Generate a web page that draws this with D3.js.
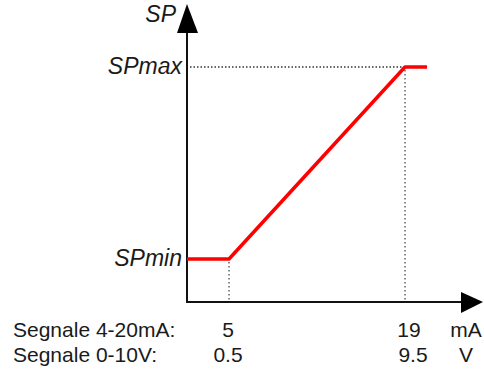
<!DOCTYPE html>
<html>
<head>
<meta charset="utf-8">
<script src="https://cdn.jsdelivr.net/npm/d3@7"></script>
<style>
  body { margin: 0; background: #fff; }
  svg { display: block; }
  text { font-family: "Liberation Sans", Arial, sans-serif; fill: #1a1a1a; }
</style>
</head>
<body>
<svg id="chart"></svg>
<script>
// signal in mA, setpoint as fraction of SPmin..SPmax
var curveMA = [1.66, 5, 19, 20.75];
var curveSP = [0, 0, 1, 1];
var ticksMA = [5, 19];
var ticksV = ['0.5', '9.5'];
var rowLabels = ['Segnale 4-20mA:', 'Segnale 0-10V:'];
var units = ['mA', 'V'];
var spLabels = ['SPmin', 'SPmax'];

var W = 484, H = 374;
var x0 = 187, y0 = 302;

var svg = d3.select('#chart')
    .attr('width', W)
    .attr('height', H);

var x = d3.scaleLinear().domain([5, 19]).range([229, 405]);
var y = d3.scaleLinear().domain([0, 1]).range([259, 67]);

// dotted guides
svg.append('g')
    .attr('class', 'guides')
    .selectAll('line')
    .data(ticksMA)
    .enter()
    .append('line')
    .attr('x1', function(d) { return x(d); })
    .attr('x2', function(d) { return x(d); })
    .attr('y1', function(d, i) { return y(i) + 3; })
    .attr('y2', y0)
    .attr('stroke', '#666')
    .attr('stroke-width', 1.5)
    .attr('stroke-dasharray', '1.5,2.5');

svg.append('line')
    .attr('x1', x0 + 3)
    .attr('x2', x(19))
    .attr('y1', y(1))
    .attr('y2', y(1))
    .attr('stroke', '#333')
    .attr('stroke-width', 1.5)
    .attr('stroke-dasharray', '1.5,2');

// axes
svg.append('path')
    .attr('d', 'M' + x0 + ',28 V' + y0 + ' H' + 465)
    .attr('fill', 'none')
    .attr('stroke', '#111')
    .attr('stroke-width', 2);

svg.append('path')
    .attr('d', 'M' + x0 + ',4 L' + (x0 - 10) + ',33 L' + (x0 + 11) + ',33 Z')
    .attr('fill', '#000');

svg.append('path')
    .attr('d', 'M483,' + y0 + ' L461,' + (y0 - 10) + ' L461,' + (y0 + 11) + ' Z')
    .attr('fill', '#000');

// red curve
var line = d3.line()
    .x(function(d) { return x(d[0]); })
    .y(function(d) { return y(d[1]); });

svg.append('path')
    .datum(d3.zip(curveMA, curveSP))
    .attr('d', line)
    .attr('fill', 'none')
    .attr('stroke', '#ff0000')
    .attr('stroke-width', 3.5)
    .attr('stroke-linejoin', 'round');

// labels
svg.append('text')
    .attr('x', 176)
    .attr('y', 22)
    .attr('text-anchor', 'end')
    .style('font-size', '23px')
    .style('font-style', 'italic')
    .text('SP');

svg.selectAll('.sp')
    .data(spLabels)
    .enter()
    .append('text')
    .attr('class', 'sp')
    .attr('x', 182)
    .attr('y', function(d, i) { return y(i) + 7; })
    .attr('text-anchor', 'end')
    .style('font-size', '23px')
    .style('font-style', 'italic')
    .text(function(d) { return d; });

var rows = [ticksMA.map(String), ticksV];
rows.forEach(function(r, i) {
  var by = 337 + i * 25;
  svg.append('text')
      .attr('x', 13)
      .attr('y', by)
      .style('font-size', '21px')
      .text(rowLabels[i]);
  svg.selectAll('.t' + i)
      .data(r)
      .enter()
      .append('text')
      .attr('class', 't' + i)
      .attr('x', function(d, j) { return x(ticksMA[j]) + (j == 1 ? 4 + i * 4 : -1); })
      .attr('y', by)
      .attr('text-anchor', 'middle')
      .style('font-size', '21px')
      .text(function(d) { return d; });
  svg.append('text')
      .attr('x', 466)
      .attr('y', by)
      .attr('text-anchor', 'middle')
      .style('font-size', '21px')
      .text(units[i]);
});
</script>
</body>
</html>
